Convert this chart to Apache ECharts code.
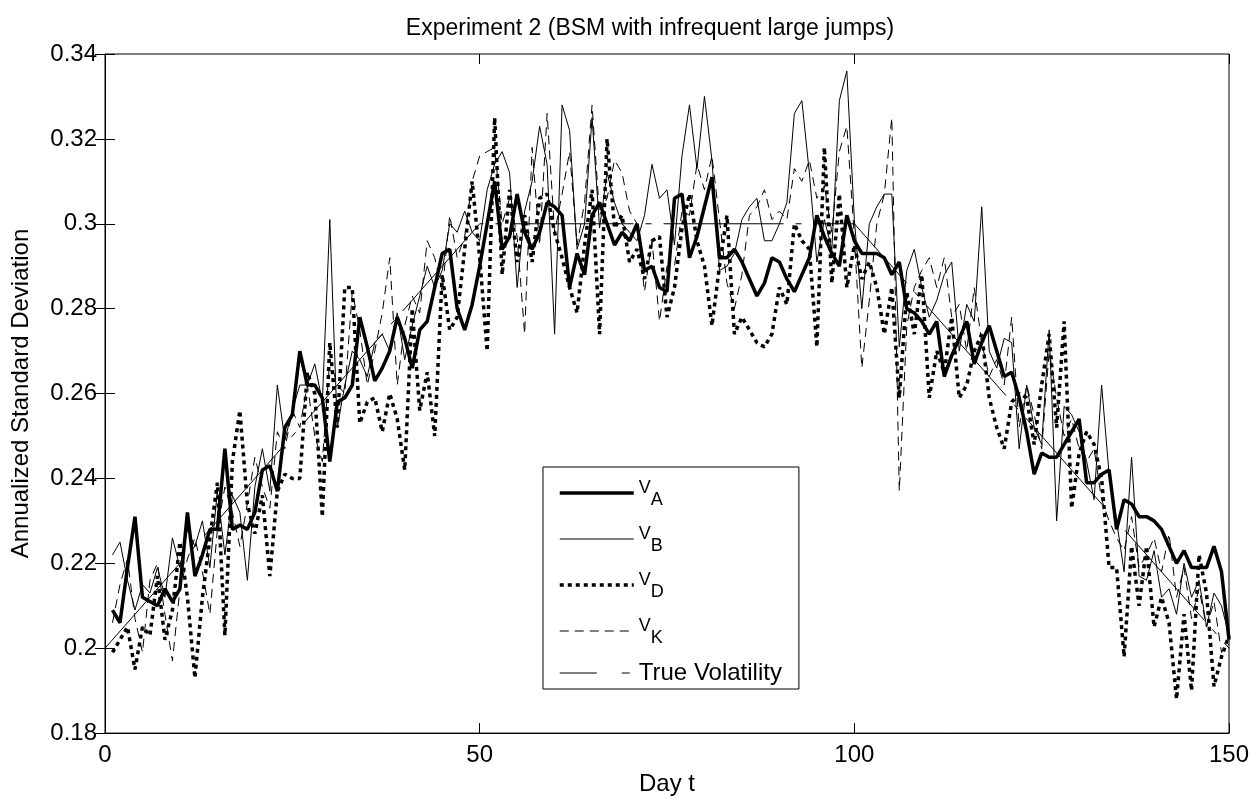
<!DOCTYPE html>
<html>
<head>
<meta charset="utf-8">
<script src="https://cdn.jsdelivr.net/npm/echarts@6/dist/echarts.min.js"></script>
<style>
html,body{margin:0;padding:0;background:#fff;}
#chart{width:1255px;height:801px;}
</style>
</head>
<body>
<div id="chart"></div>
<script>
// ---- data (days 1..150) ----
const titleText = 'Experiment 2 (BSM with infrequent large jumps)';
const xName = 'Day t';
const yName = 'Annualized Standard Deviation';

const vA = [
0.209,0.206,0.219,0.231,0.212,0.211,0.210,0.214,0.211,0.214,
0.232,0.217,0.222,0.228,0.228,0.247,0.228,0.229,0.228,0.232,
0.242,0.243,0.237,0.252,0.255,0.270,0.262,0.262,0.259,0.244,
0.258,0.259,0.262,0.278,0.271,0.263,0.266,0.270,0.278,0.273,
0.266,0.275,0.277,0.285,0.293,0.294,0.280,0.275,0.281,0.290,
0.300,0.310,0.294,0.297,0.307,0.298,0.294,0.298,0.305,0.304,
0.302,0.285,0.293,0.288,0.302,0.305,0.300,0.295,0.298,0.296,
0.300,0.289,0.290,0.285,0.284,0.306,0.307,0.292,0.297,0.304,
0.311,0.292,0.292,0.294,0.291,0.287,0.283,0.286,0.292,0.291,
0.287,0.284,0.288,0.292,0.302,0.297,0.293,0.290,0.302,0.296,
0.293,0.293,0.293,0.292,0.288,0.291,0.280,0.279,0.277,0.274,
0.277,0.264,0.269,0.273,0.277,0.267,0.272,0.276,0.270,0.264,
0.265,0.259,0.251,0.241,0.246,0.245,0.245,0.248,0.251,0.254,
0.239,0.239,0.241,0.242,0.228,0.235,0.234,0.231,0.231,0.230,
0.228,0.224,0.220,0.223,0.219,0.219,0.219,0.224,0.218,0.202];

const vB = [
0.222,0.225,0.216,0.209,0.215,0.213,0.219,0.212,0.226,0.219,
0.228,0.224,0.230,0.219,0.237,0.222,0.236,0.232,0.216,0.238,
0.247,0.237,0.262,0.249,0.256,0.262,0.262,0.267,0.258,0.301,
0.252,0.262,0.270,0.268,0.264,0.272,0.274,0.270,0.279,0.268,
0.276,0.283,0.290,0.285,0.289,0.300,0.298,0.303,0.298,0.296,
0.308,0.314,0.317,0.312,0.285,0.303,0.310,0.323,0.314,0.274,
0.328,0.322,0.294,0.300,0.325,0.299,0.312,0.305,0.300,0.298,
0.296,0.302,0.314,0.306,0.308,0.295,0.316,0.328,0.313,0.330,
0.315,0.289,0.290,0.293,0.301,0.304,0.306,0.296,0.296,0.300,
0.305,0.326,0.329,0.312,0.291,0.301,0.294,0.329,0.336,0.301,
0.280,0.300,0.304,0.307,0.307,0.271,0.289,0.294,0.285,0.278,
0.282,0.288,0.291,0.270,0.281,0.277,0.304,0.270,0.266,0.273,
0.272,0.247,0.262,0.252,0.248,0.275,0.230,0.257,0.255,0.251,
0.244,0.235,0.262,0.241,0.230,0.218,0.245,0.217,0.216,0.223,
0.212,0.214,0.208,0.220,0.212,0.216,0.205,0.213,0.210,0.203];

const vD = [
0.199,0.202,0.205,0.195,0.205,0.203,0.217,0.202,0.209,0.225,
0.212,0.193,0.212,0.226,0.239,0.203,0.244,0.256,0.234,0.227,
0.236,0.217,0.237,0.241,0.240,0.240,0.265,0.260,0.231,0.272,
0.252,0.285,0.285,0.253,0.258,0.259,0.251,0.260,0.254,0.242,
0.280,0.256,0.265,0.250,0.288,0.275,0.278,0.294,0.310,0.292,
0.270,0.325,0.288,0.308,0.291,0.302,0.291,0.306,0.307,0.298,
0.292,0.285,0.279,0.295,0.308,0.274,0.320,0.299,0.302,0.291,
0.294,0.287,0.296,0.297,0.278,0.285,0.299,0.307,0.296,0.290,
0.276,0.290,0.302,0.274,0.278,0.275,0.272,0.271,0.274,0.285,
0.281,0.300,0.296,0.294,0.271,0.318,0.286,0.307,0.285,0.295,
0.287,0.291,0.285,0.274,0.285,0.259,0.284,0.274,0.288,0.259,
0.270,0.265,0.278,0.259,0.262,0.270,0.274,0.259,0.252,0.247,
0.258,0.260,0.259,0.248,0.262,0.274,0.252,0.277,0.233,0.246,
0.251,0.248,0.240,0.219,0.219,0.198,0.224,0.210,0.224,0.205,
0.212,0.206,0.188,0.208,0.190,0.222,0.213,0.191,0.198,0.203];

const vK = [
0.206,0.215,0.221,0.207,0.199,0.216,0.220,0.208,0.197,0.214,
0.221,0.226,0.218,0.208,0.228,0.238,0.232,0.224,0.234,0.245,
0.238,0.233,0.251,0.247,0.256,0.252,0.262,0.250,0.244,0.268,
0.262,0.260,0.284,0.275,0.262,0.270,0.279,0.292,0.262,0.276,
0.283,0.279,0.296,0.292,0.284,0.302,0.292,0.297,0.310,0.316,
0.317,0.318,0.300,0.306,0.297,0.274,0.318,0.295,0.326,0.298,
0.307,0.317,0.295,0.305,0.328,0.302,0.306,0.315,0.312,0.303,
0.300,0.284,0.296,0.277,0.290,0.290,0.303,0.302,0.314,0.308,
0.316,0.301,0.286,0.280,0.288,0.302,0.304,0.308,0.301,0.303,
0.301,0.313,0.310,0.315,0.306,0.309,0.298,0.317,0.323,0.297,
0.266,0.282,0.300,0.307,0.325,0.237,0.276,0.285,0.289,0.292,
0.285,0.292,0.278,0.281,0.270,0.285,0.272,0.264,0.268,0.262,
0.278,0.252,0.262,0.255,0.247,0.270,0.259,0.250,0.254,0.247,
0.244,0.247,0.235,0.230,0.226,0.223,0.231,0.219,0.222,0.226,
0.218,0.227,0.212,0.219,0.207,0.214,0.205,0.211,0.199,0.201];

const trueDays = [0, 50, 100, 150];
const trueVol = [0.20, 0.30, 0.30, 0.20];

const xTicks = {min: 0, max: 150, interval: 50};
const yTicks = {min: 0.18, max: 0.34, interval: 0.02};

// ---- chart ----
const FONT = '"Liberation Sans", Arial, Helvetica, sans-serif';
const pairs = arr => arr.map((v, i) => [i + 1, v]);
const chart = echarts.init(document.getElementById('chart'), null, {renderer: 'canvas'});

const tickStyle = {show: true, inside: true, length: 10, lineStyle: {color: '#000', width: 1}};

const styles = {
  'V_A': {color: '#000', width: 3.5, type: 'solid'},
  'V_B': {color: '#000', width: 1, type: 'solid'},
  'V_D': {color: '#000', width: 3.5, type: [4, 4]},
  'V_K': {color: '#000', width: 1, type: [9, 6]},
  'True Volatility': {color: '#000', width: 1, type: [120, 12, 6, 12]}
};
const legendTrue = {color: '#000', width: 1, type: [37, 25, 8, 25]};
const hiddenSymbol = {color: 'rgba(0,0,0,0)', borderWidth: 0, opacity: 0};

const option = {
  animation: false,
  backgroundColor: '#fff',
  textStyle: {fontFamily: FONT},
  title: {
    text: titleText,
    left: 645, top: 12, textAlign: 'center',
    textStyle: {fontFamily: FONT, fontSize: 23, fontWeight: 'normal', color: '#000'}
  },
  grid: {left: 105, right: 26, top: 54, bottom: 67, show: true, borderColor: '#000', borderWidth: 1, backgroundColor: '#fff'},
  xAxis: [{
    type: 'value', position: 'bottom', min: xTicks.min, max: xTicks.max, interval: xTicks.interval,
    axisLine: {show: true, onZero: false, lineStyle: {color: '#000', width: 1}},
    axisTick: tickStyle,
    axisLabel: {color: '#000', fontSize: 24, fontFamily: FONT, margin: 10},
    splitLine: {show: false},
    name: xName, nameLocation: 'middle', nameGap: 38,
    nameTextStyle: {color: '#000', fontSize: 24, fontFamily: FONT}
  }, {
    type: 'value', position: 'top', min: xTicks.min, max: xTicks.max, interval: xTicks.interval,
    axisLine: {show: false}, axisTick: tickStyle, axisLabel: {show: false}, splitLine: {show: false}
  }],
  yAxis: [{
    type: 'value', position: 'left', min: yTicks.min, max: yTicks.max, interval: yTicks.interval,
    axisLine: {show: true, onZero: false, lineStyle: {color: '#000', width: 1}},
    axisTick: tickStyle,
    axisLabel: {color: '#000', fontSize: 24, fontFamily: FONT, margin: 8},
    splitLine: {show: false},
    name: yName, nameLocation: 'middle', nameGap: 72, nameRotate: 90,
    nameTextStyle: {color: '#000', fontSize: 24, fontFamily: FONT}
  }, {
    type: 'value', position: 'right', min: yTicks.min, max: yTicks.max, interval: yTicks.interval,
    axisLine: {show: false}, axisTick: tickStyle, axisLabel: {show: false}, splitLine: {show: false}
  }],
  legend: {
    orient: 'vertical', left: 543, top: 467,
    padding: [10, 17, 4, 15], itemGap: 14,
    itemWidth: 74, itemHeight: 14,
    backgroundColor: '#fff', borderColor: '#000', borderWidth: 1, borderRadius: 0,
    selectedMode: false, z: 10,
    itemStyle: hiddenSymbol,
    data: [
      {name: 'V_A', itemStyle: hiddenSymbol, lineStyle: styles['V_A']},
      {name: 'V_B', itemStyle: hiddenSymbol, lineStyle: styles['V_B']},
      {name: 'V_D', itemStyle: hiddenSymbol, lineStyle: styles['V_D']},
      {name: 'V_K', itemStyle: hiddenSymbol, lineStyle: styles['V_K']},
      {name: 'True Volatility', itemStyle: hiddenSymbol, lineStyle: legendTrue}
    ],
    formatter: function (name) {
      if (name.indexOf('V_') === 0) return '{v|V}{s|' + name.slice(2) + '}';
      return '{t|' + name + '}';
    },
    textStyle: {
      color: '#000', fontFamily: FONT,
      rich: {
        v: {fontSize: 18, lineHeight: 18, padding: [2, 0, 12, 0], color: '#000', fontFamily: FONT},
        s: {fontSize: 18, lineHeight: 18, padding: [14, 0, 0, 0], color: '#000', fontFamily: FONT},
        t: {fontSize: 24, lineHeight: 32, color: '#000', fontFamily: FONT}
      }
    }
  },
  series: [
    {name: 'V_A', type: 'line', data: pairs(vA), showSymbol: false, symbol: 'none',
     lineStyle: styles['V_A'], itemStyle: {color: '#000'}, z: 2},
    {name: 'V_B', type: 'line', data: pairs(vB), showSymbol: false, symbol: 'none',
     lineStyle: styles['V_B'], itemStyle: {color: '#000'}, z: 3},
    {name: 'V_D', type: 'line', data: pairs(vD), showSymbol: false, symbol: 'none',
     lineStyle: styles['V_D'], itemStyle: {color: '#000'}, z: 4},
    {name: 'V_K', type: 'line', data: pairs(vK), showSymbol: false, symbol: 'none',
     lineStyle: styles['V_K'], itemStyle: {color: '#000'}, z: 5},
    {name: 'True Volatility', type: 'line', data: trueDays.map((d, i) => [d, trueVol[i]]),
     showSymbol: false, symbol: 'none',
     lineStyle: styles['True Volatility'], itemStyle: {color: '#000'}, z: 6}
  ]
};
chart.setOption(option);
</script>
</body>
</html>
